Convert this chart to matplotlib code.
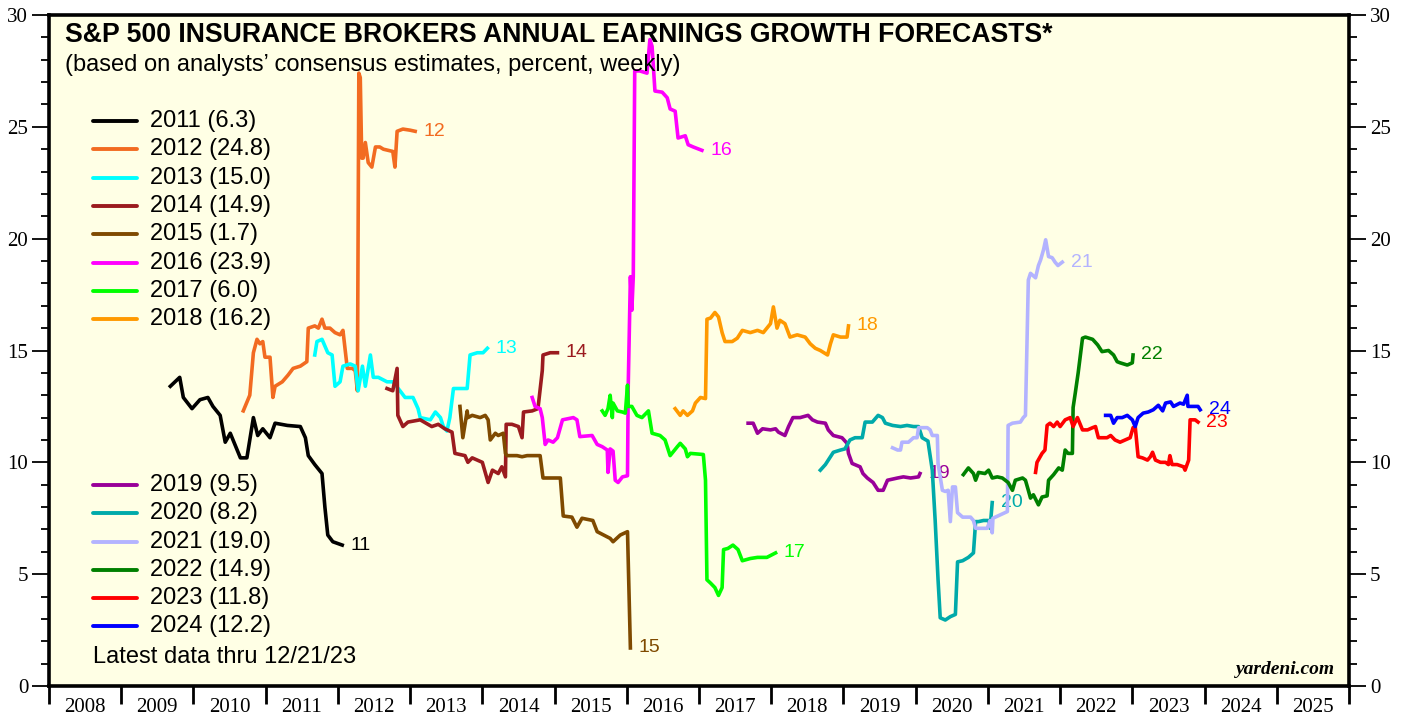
"""
S&P 500 Insurance Brokers annual earnings growth forecasts (weekly consensus).

Each forecast year is drawn as its own line, labelled at its last point.
"""
import matplotlib
matplotlib.use('Agg')
import matplotlib.pyplot as plt
from matplotlib.ticker import FixedLocator, NullFormatter, FixedFormatter


# Forecast years shown on the chart and their latest values (legend)
forecast_years = [2011, 2012, 2013, 2014, 2015, 2016, 2017,
                  2018, 2019, 2020, 2021, 2022, 2023, 2024]
latest_values = [6.3, 24.8, 15.0, 14.9, 1.7, 23.9, 6.0,
                 16.2, 9.5, 8.2, 19.0, 14.9, 11.8, 12.2]

# Weekly consensus estimates (decimal year, percent)
x_2011 = [2009.68, 2009.81, 2009.86, 2009.98, 2010.09, 2010.20, 2010.27, 2010.37, 2010.44,
          2010.51, 2010.65, 2010.74, 2010.83, 2010.89, 2010.96, 2011.06, 2011.13, 2011.30,
          2011.48, 2011.55, 2011.59, 2011.68, 2011.78, 2011.82, 2011.86, 2011.93, 2012.06]
y_2011 = [13.4, 13.8, 12.9, 12.4, 12.8, 12.9, 12.5, 12.1, 10.9,
          11.3, 10.2, 10.2, 12.0, 11.2, 11.5, 11.1, 11.75, 11.65,
          11.6, 11.1, 10.3, 9.9, 9.5, 8.0, 6.75, 6.45, 6.3]

x_2012 = [2010.69, 2010.78, 2010.83, 2010.88, 2010.92, 2010.96, 2010.99, 2011.06, 2011.10,
          2011.13, 2011.23, 2011.31, 2011.38, 2011.48, 2011.57, 2011.59, 2011.68, 2011.73,
          2011.78, 2011.82, 2011.89, 2011.96, 2012.03, 2012.07, 2012.13, 2012.20, 2012.24,
          2012.27, 2012.29, 2012.31, 2012.33, 2012.35, 2012.38, 2012.42, 2012.47, 2012.52,
          2012.58, 2012.63, 2012.76, 2012.79, 2012.82, 2012.90, 2013.00, 2013.07]
y_2012 = [12.3, 13.0, 14.9, 15.5, 15.3, 15.4, 14.7, 14.7, 12.9,
          13.4, 13.6, 13.9, 14.2, 14.3, 14.5, 16.0, 16.1, 16.0,
          16.4, 16.0, 16.0, 15.8, 15.7, 15.9, 14.2, 14.2, 14.1,
          13.2, 27.4, 27.2, 23.6, 23.6, 24.3, 23.4, 23.2, 24.1,
          24.1, 24.0, 23.9, 23.2, 24.8, 24.9, 24.85, 24.8]

x_2013 = [2011.68, 2011.71, 2011.78, 2011.82, 2011.86, 2011.92, 2011.96, 2012.03, 2012.07,
          2012.17, 2012.24, 2012.28, 2012.34, 2012.38, 2012.45, 2012.49, 2012.56, 2012.68,
          2012.76, 2012.86, 2012.93, 2013.04, 2013.11, 2013.14, 2013.28, 2013.35, 2013.42,
          2013.46, 2013.51, 2013.55, 2013.60, 2013.79, 2013.83, 2013.93, 2014.01, 2014.07]
y_2013 = [14.8, 15.4, 15.5, 15.2, 14.9, 14.8, 13.4, 13.6, 14.3,
          14.4, 14.3, 13.2, 14.3, 13.4, 14.8, 13.8, 13.8, 13.6,
          13.6, 13.2, 12.9, 12.9, 12.4, 12.0, 11.9, 12.25, 12.0,
          11.6, 11.4, 12.0, 13.3, 13.3, 14.8, 14.9, 14.9, 15.1]

x_2014 = [2012.68, 2012.76, 2012.82, 2012.83, 2012.90, 2012.97, 2013.14, 2013.30, 2013.39,
          2013.48, 2013.58, 2013.62, 2013.76, 2013.80, 2013.86, 2014.00, 2014.08, 2014.14,
          2014.22, 2014.27, 2014.32, 2014.33, 2014.41, 2014.50, 2014.55, 2014.57, 2014.69,
          2014.77, 2014.83, 2014.84, 2014.94, 2015.04]
y_2014 = [13.3, 13.2, 14.2, 12.1, 11.6, 11.8, 11.9, 11.6, 11.7,
          11.5, 11.35, 10.4, 10.3, 10.0, 10.2, 10.0, 9.1, 9.65,
          9.5, 9.8, 9.35, 11.7, 11.7, 11.6, 11.1, 12.25, 12.3,
          12.4, 14.1, 14.8, 14.9, 14.9]

x_2015 = [2013.69, 2013.73, 2013.79, 2013.80, 2013.86, 2013.97, 2014.04, 2014.08, 2014.11,
          2014.18, 2014.22, 2014.29, 2014.32, 2014.34, 2014.48, 2014.55, 2014.62, 2014.80,
          2014.84, 2015.08, 2015.12, 2015.24, 2015.31, 2015.38, 2015.53, 2015.59, 2015.77,
          2015.81, 2015.91, 2016.01, 2016.05]
y_2015 = [12.5, 11.1, 12.3, 12.0, 12.1, 12.0, 12.1, 11.9, 11.0,
          11.3, 11.2, 11.3, 10.4, 10.3, 10.3, 10.25, 10.3, 10.3,
          9.3, 9.3, 7.6, 7.55, 7.1, 7.5, 7.4, 6.9, 6.6,
          6.45, 6.75, 6.9, 1.7]

x_2016 = [2014.69, 2014.73, 2014.80, 2014.83, 2014.87, 2014.91, 2014.98, 2015.04, 2015.11,
          2015.26, 2015.31, 2015.35, 2015.52, 2015.59, 2015.66, 2015.73, 2015.74, 2015.77,
          2015.81, 2015.84, 2015.88, 2015.94, 2016.01, 2016.02, 2016.05, 2016.07, 2016.09,
          2016.11, 2016.18, 2016.28, 2016.32, 2016.35, 2016.39, 2016.49, 2016.56, 2016.60,
          2016.67, 2016.71, 2016.81, 2016.85, 2016.92, 2017.04]
y_2016 = [12.9, 12.5, 12.4, 12.0, 10.8, 11.0, 10.9, 11.1, 11.9,
          12.0, 11.9, 11.15, 11.2, 10.8, 10.7, 10.55, 9.55, 10.6,
          10.5, 9.2, 9.1, 9.35, 9.4, 13.4, 18.3, 16.8, 18.3,
          27.5, 27.5, 27.4, 28.9, 28.6, 26.6, 26.55, 26.3, 25.8,
          25.7, 24.5, 24.6, 24.2, 24.1, 23.95]

x_2017 = [2015.66, 2015.70, 2015.74, 2015.77, 2015.80, 2015.81, 2015.87, 2015.94, 2015.98,
          2016.01, 2016.02, 2016.07, 2016.14, 2016.21, 2016.30, 2016.35, 2016.46, 2016.53,
          2016.60, 2016.70, 2016.74, 2016.81, 2016.84, 2016.88, 2017.06, 2017.09, 2017.11,
          2017.16, 2017.22, 2017.27, 2017.32, 2017.34, 2017.40, 2017.47, 2017.54, 2017.60,
          2017.71, 2017.81, 2017.94, 2018.06]
y_2017 = [12.3, 12.1, 12.4, 13.0, 12.0, 12.65, 12.3, 12.25, 12.2,
          13.45, 12.5, 12.5, 12.1, 12.0, 12.3, 11.3, 11.2, 11.0,
          10.3, 10.7, 10.85, 10.6, 10.25, 10.4, 10.35, 9.2, 4.75,
          4.6, 4.4, 4.05, 4.4, 6.1, 6.15, 6.3, 6.1, 5.6,
          5.7, 5.75, 5.75, 5.95]

x_2018 = [2016.67, 2016.74, 2016.78, 2016.84, 2016.91, 2016.95, 2017.02, 2017.09, 2017.11,
          2017.16, 2017.22, 2017.27, 2017.32, 2017.36, 2017.46, 2017.53, 2017.60, 2017.71,
          2017.81, 2017.89, 2017.99, 2018.03, 2018.08, 2018.12, 2018.19, 2018.26, 2018.36,
          2018.47, 2018.54, 2018.61, 2018.68, 2018.78, 2018.82, 2018.86, 2018.96, 2019.05,
          2019.07]
y_2018 = [12.4, 12.1, 12.3, 12.1, 12.3, 12.65, 12.9, 12.85, 16.4,
          16.45, 16.7, 16.5, 15.8, 15.4, 15.4, 15.55, 15.9, 15.8,
          15.9, 15.8, 16.2, 16.95, 16.0, 16.35, 16.2, 15.6, 15.7,
          15.6, 15.3, 15.1, 15.0, 14.8, 15.3, 15.7, 15.6, 15.6,
          16.1]

x_2019 = [2017.68, 2017.75, 2017.81, 2017.88, 2017.99, 2018.06, 2018.10, 2018.19, 2018.24,
          2018.30, 2018.40, 2018.51, 2018.57, 2018.64, 2018.75, 2018.79, 2018.86, 2018.98,
          2019.05, 2019.07, 2019.12, 2019.23, 2019.27, 2019.33, 2019.41, 2019.48, 2019.55,
          2019.61, 2019.75, 2019.83, 2019.93, 2020.04, 2020.06]
y_2019 = [11.75, 11.75, 11.3, 11.5, 11.45, 11.5, 11.35, 11.2, 11.6,
          12.0, 12.0, 12.1, 11.9, 11.8, 11.75, 11.45, 11.2, 11.1,
          10.85, 10.4, 9.95, 9.8, 9.5, 9.3, 9.1, 8.75, 8.75,
          9.2, 9.3, 9.35, 9.3, 9.35, 9.5]

x_2020 = [2018.68, 2018.75, 2018.82, 2018.86, 2018.96, 2019.02, 2019.09, 2019.16, 2019.26,
          2019.30, 2019.40, 2019.48, 2019.54, 2019.58, 2019.68, 2019.79, 2019.88, 2019.97,
          2020.04, 2020.09, 2020.17, 2020.23, 2020.27, 2020.31, 2020.34, 2020.41, 2020.48,
          2020.55, 2020.58, 2020.65, 2020.73, 2020.80, 2020.83, 2020.87, 2020.94, 2021.01,
          2021.03, 2021.06]
y_2020 = [9.65, 9.9, 10.25, 10.45, 10.55, 10.6, 11.0, 11.1, 11.1,
          11.8, 11.8, 12.1, 12.0, 11.75, 11.65, 11.6, 11.65, 11.6,
          11.6, 11.1, 10.95, 9.65, 7.4, 4.75, 3.05, 2.95, 3.1,
          3.2, 5.55, 5.6, 5.75, 5.95, 7.35, 7.35, 7.4, 7.4,
          7.05, 8.2]

x_2021 = [2019.68, 2019.75, 2019.79, 2019.81, 2019.90, 2019.97, 2020.02, 2020.04, 2020.09,
          2020.16, 2020.20, 2020.23, 2020.30, 2020.31, 2020.37, 2020.41, 2020.45, 2020.48,
          2020.51, 2020.55, 2020.58, 2020.65, 2020.76, 2020.80, 2020.83, 2020.99, 2021.03,
          2021.06, 2021.07, 2021.17, 2021.27, 2021.28, 2021.34, 2021.45, 2021.49, 2021.52,
          2021.56, 2021.59, 2021.66, 2021.70, 2021.73, 2021.77, 2021.80, 2021.84, 2021.89,
          2021.93, 2021.97, 2022.03]
y_2021 = [10.65, 10.55, 10.55, 10.9, 10.9, 11.1, 11.1, 11.55, 11.55,
          11.55, 11.45, 11.2, 11.2, 9.95, 8.75, 8.7, 8.75, 7.35,
          8.9, 8.9, 7.75, 7.55, 7.55, 7.4, 7.05, 7.05, 7.4,
          6.85, 7.5, 7.65, 7.8, 11.65, 11.75, 11.8, 12.0, 12.1,
          18.15, 18.45, 18.25, 18.8, 19.05, 19.5, 19.95, 19.2, 19.15,
          18.95, 18.8, 18.95]

x_2022 = [2020.66, 2020.73, 2020.80, 2020.83, 2020.87, 2020.96, 2021.01, 2021.06, 2021.13,
          2021.20, 2021.28, 2021.34, 2021.38, 2021.48, 2021.52, 2021.56, 2021.59, 2021.63,
          2021.70, 2021.75, 2021.82, 2021.84, 2021.91, 2021.98, 2022.03, 2022.07, 2022.11,
          2022.17, 2022.18, 2022.21, 2022.25, 2022.31, 2022.35, 2022.45, 2022.52, 2022.58,
          2022.67, 2022.74, 2022.79, 2022.83, 2022.93, 2023.00, 2023.01]
y_2022 = [9.45, 9.75, 9.5, 9.2, 9.55, 9.5, 9.65, 9.3, 9.35,
          9.3, 9.1, 8.75, 9.2, 9.3, 9.2, 8.75, 8.4, 8.55,
          8.1, 8.45, 8.5, 9.2, 9.45, 9.75, 9.65, 10.55, 10.4,
          10.4, 12.45, 13.1, 14.0, 15.55, 15.6, 15.5, 15.25, 14.95,
          15.0, 14.8, 14.5, 14.45, 14.35, 14.45, 14.8]

x_2023 = [2021.66, 2021.68, 2021.75, 2021.79, 2021.82, 2021.86, 2021.91, 2021.96, 2022.00,
          2022.07, 2022.14, 2022.18, 2022.24, 2022.31, 2022.38, 2022.45, 2022.49, 2022.53,
          2022.65, 2022.70, 2022.76, 2022.83, 2022.90, 2022.97, 2023.01, 2023.04, 2023.08,
          2023.14, 2023.21, 2023.25, 2023.28, 2023.32, 2023.39, 2023.46, 2023.50, 2023.52,
          2023.55, 2023.62, 2023.71, 2023.73, 2023.78, 2023.80, 2023.87, 2023.91]
y_2023 = [9.55, 10.0, 10.4, 10.55, 11.65, 11.75, 11.6, 11.8, 11.6,
          11.9, 12.0, 11.6, 12.0, 11.45, 11.45, 11.55, 11.6, 11.1,
          11.1, 11.2, 11.0, 10.9, 11.0, 11.1, 11.55, 11.6, 10.25,
          10.2, 10.1, 10.25, 10.45, 10.1, 10.0, 10.0, 9.9, 10.3,
          9.9, 9.9, 9.8, 9.65, 10.1, 11.9, 11.9, 11.8]

x_2024 = [2022.63, 2022.70, 2022.74, 2022.79, 2022.86, 2022.93, 2023.00, 2023.04, 2023.08,
          2023.15, 2023.22, 2023.29, 2023.36, 2023.42, 2023.46, 2023.53, 2023.57, 2023.66,
          2023.71, 2023.76, 2023.77, 2023.84, 2023.91, 2023.94]
y_2024 = [12.1, 12.1, 11.75, 12.0, 12.0, 12.1, 11.9, 11.6, 12.0,
          12.2, 12.25, 12.35, 12.55, 12.3, 12.65, 12.7, 12.5, 12.65,
          12.6, 13.0, 12.5, 12.5, 12.5, 12.35]

series_x = [x_2011, x_2012, x_2013, x_2014, x_2015, x_2016, x_2017,
            x_2018, x_2019, x_2020, x_2021, x_2022, x_2023, x_2024]
series_y = [y_2011, y_2012, y_2013, y_2014, y_2015, y_2016, y_2017,
            y_2018, y_2019, y_2020, y_2021, y_2022, y_2023, y_2024]

# Line colours, one per forecast year
colors = ['#000000', '#F26B21', '#00FFFF', '#9B1B1F', '#7F4A00', '#FF00FF', '#00FF00',
          '#FF9900', '#990099', '#00AAAA', '#B3B3FF', '#008000', '#FF0000', '#0000FF']

x_years = list(range(2008, 2026))

SANS = ['Liberation Sans', 'DejaVu Sans']
SERIF = ['Liberation Serif', 'DejaVu Serif']
BG = '#FFFFE5'

fig = plt.figure(figsize=(14.05, 7.17), dpi=100)
ax = fig.add_axes([49 / 1405, 31 / 717, 1300 / 1405, 671 / 717])
ax.set_facecolor(BG)

# Forecast lines with their short year labels at the end
for year, xs, ys, color in zip(forecast_years, series_x, series_y, colors):
    ax.plot(xs, ys, color=color, lw=2.6, solid_joinstyle='round', zorder=3)
    ax.annotate(str(year)[2:], xy=(xs[-1], ys[-1]), xytext=(6, 0),
                textcoords='offset points', ha='left', va='center',
                fontsize=14, color=color, family=SANS, zorder=2)

ax.set_xlim(2008, 2026)
ax.set_ylim(0, 30)

# x axis: long ticks at year boundaries, labels centred within each year
ax.xaxis.set_major_locator(FixedLocator(list(range(2008, 2027))))
ax.xaxis.set_major_formatter(NullFormatter())
ax.xaxis.set_minor_locator(FixedLocator([y + 0.5 for y in x_years]))
ax.xaxis.set_minor_formatter(FixedFormatter([str(y) for y in x_years]))
ax.tick_params(axis='x', which='major', length=13, width=2, direction='out')
ax.tick_params(axis='x', which='minor', length=0, pad=9, labelsize=15)

# y axis on both sides, minor ticks every 1
ax.yaxis.set_major_locator(FixedLocator(list(range(0, 31, 5))))
ax.yaxis.set_minor_locator(FixedLocator(list(range(0, 31))))
ax.tick_params(axis='y', which='both', left=True, right=True,
               labelleft=True, labelright=True, direction='out')
ax.tick_params(axis='y', which='major', length=12, width=1.3, labelsize=15, pad=3)
ax.tick_params(axis='y', which='minor', length=6, width=1.3)
for lbl in ax.get_xticklabels(minor=True):
    lbl.set_family(SERIF)
for lbl in ax.yaxis.get_ticklabels(which='both'):
    lbl.set_family(SERIF)

for side in ['left', 'right', 'top', 'bottom']:
    ax.spines[side].set_linewidth(2.6)

# Title block
ax.text(0.0123, 0.970, 'S&P 500 INSURANCE BROKERS ANNUAL EARNINGS GROWTH FORECASTS*',
        transform=ax.transAxes, ha='left', va='center', fontsize=19.2,
        fontweight='bold', family=SANS)
ax.text(0.0123, 0.926, '(based on analysts\u2019 consensus estimates, percent, weekly)',
        transform=ax.transAxes, ha='left', va='center', fontsize=17, family=SANS)

# Legend, drawn as two stacked blocks
row_step = 28.3 / 671
for i, (year, val, color) in enumerate(zip(forecast_years, latest_values, colors)):
    if i < 8:
        yy = 0.842 - i * row_step
    else:
        yy = 0.2996 - (i - 8) * row_step
    ax.plot([0.0338, 0.0677], [yy, yy], transform=ax.transAxes, color=color,
            lw=2.8, solid_capstyle='round', zorder=5)
    ax.text(0.0777, yy, '%d (%.1f)' % (year, val), transform=ax.transAxes,
            ha='left', va='center', fontsize=17, family=SANS)

ax.text(0.0338, 0.0432, 'Latest data thru 12/21/23', transform=ax.transAxes,
        ha='left', va='center', fontsize=17, family=SANS)
ax.text(0.989, 0.024, 'yardeni.com', transform=ax.transAxes, ha='right', va='center',
        fontsize=14, fontweight='bold', fontstyle='italic', family=SERIF)

fig.savefig('out.png', dpi=100, facecolor='white')
